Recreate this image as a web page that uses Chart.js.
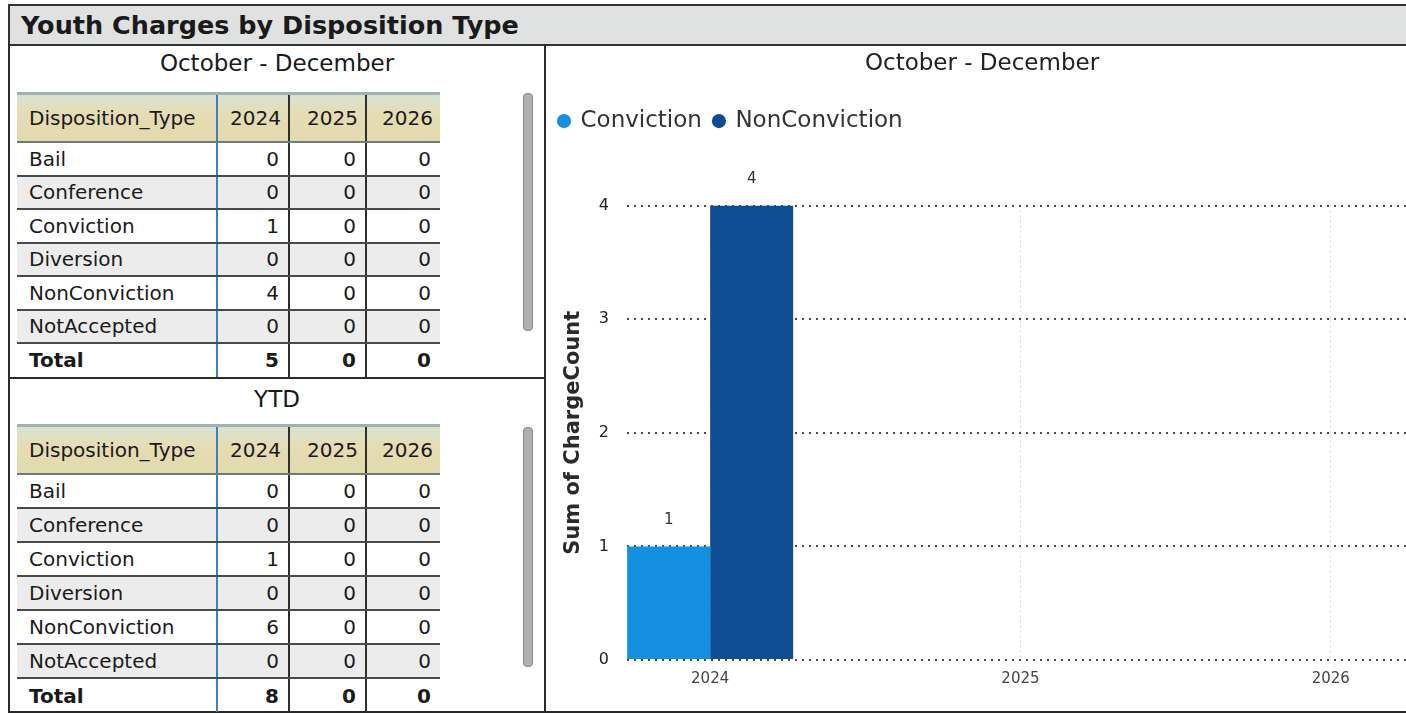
<!DOCTYPE html>
<html>
<head>
<meta charset="utf-8">
<script src="https://cdn.jsdelivr.net/npm/chart.js@4.4.1/dist/chart.umd.min.js"></script>
<style>
  html, body { margin: 0; padding: 0; background: #fff; overflow: hidden; }
  body { width: 1406px; height: 714px; position: relative; font-family: "DejaVu Sans", sans-serif; color: #1a1a1a; }
  #titleBar {
    position: absolute; left: 8px; top: 4px; width: 1420px; height: 38px;
    background: #dfe2e0; border: 2px solid #333; border-right: none;
    font-weight: bold; font-size: 25.5px; line-height: 38px; padding-left: 11px; box-sizing: content-box;
  }
  .panel { position: absolute; border-left: 2px solid #2b2b2b; box-sizing: border-box; }
  #leftTop { left: 8px; top: 44px; width: 538px; height: 335px; border-right: 2px solid #2b2b2b; border-bottom: 2px solid #2b2b2b; }
  #leftBottom { left: 8px; top: 379px; width: 538px; height: 334px; border-right: 2px solid #2b2b2b; border-bottom: 2px solid #2b2b2b; }
  #rightPanel { left: 546px; top: 44px; width: 880px; height: 669px; border-left: none; border-bottom: 2px solid #2b2b2b; }
  .secTitle { position: absolute; left: 0; width: 534px; text-align: center; font-size: 23px; }
  table.grid {
    position: absolute; left: 7px; border-collapse: collapse; table-layout: fixed;
    font-size: 20px;
  }
  table.grid th {
    height: 46px; font-weight: normal; padding: 0 7px; text-align: right;
    background: linear-gradient(#d9e3cf, #e6dcb2 45%, #e3d9ad);
    border-top: 3px solid #9fb0bb; border-bottom: 2px solid #6d7a80;
  }
  table.grid th:first-child { text-align: left; padding-left: 12px; }
  table.grid td { padding: 0 9px; text-align: right; border-bottom: 2px solid #4a4a4a; }
  table.grid td:first-child { text-align: left; padding-left: 12px; }
  table.grid td:nth-child(1), table.grid th:nth-child(1) { border-right: 2px solid #3d7fc4; }
  table.grid td:nth-child(2), table.grid th:nth-child(2),
  table.grid td:nth-child(3), table.grid th:nth-child(3) { border-right: 2px solid #2e2e2e; }
  table.grid tr.alt td { background: #ececec; }
  table.grid tr.total td { font-weight: bold; border-bottom: none; }
  .scroll { position: absolute; left: 513px; width: 8px; background: #b0b0b0; border: 1px solid #8a8a8a; border-radius: 4px; }
  #chartWrap { position: absolute; left: 547px; top: 47px; width: 870px; height: 664px; }
</style>
</head>
<body>
<div id="titleBar">Youth Charges by Disposition Type</div>

<div class="panel" id="leftTop">
  <div class="secTitle" style="top:6px;">October - December</div>
  <table class="grid" id="qtrTable" style="top:48px;"></table>
  <div class="scroll" style="top:49px; height:236px;"></div>
</div>

<div class="panel" id="leftBottom">
  <div class="secTitle" style="top:7px;">YTD</div>
  <table class="grid" id="ytdTable" style="top:45px;"></table>
  <div class="scroll" style="top:48px; height:238px;"></div>
</div>

<div class="panel" id="rightPanel"></div>
<div id="chartWrap"><canvas id="chargeChart" width="870" height="664"></canvas></div>

<script>
// Table data
const dispositionTypes = ['Bail', 'Conference', 'Conviction', 'Diversion', 'NonConviction', 'NotAccepted'];
const years = [2024, 2025, 2026];

const qtrCounts2024 = [0, 0, 1, 0, 4, 0];
const qtrCounts2025 = [0, 0, 0, 0, 0, 0];
const qtrCounts2026 = [0, 0, 0, 0, 0, 0];
const qtrTotals = [5, 0, 0];

const ytdCounts2024 = [0, 0, 1, 0, 6, 0];
const ytdCounts2025 = [0, 0, 0, 0, 0, 0];
const ytdCounts2026 = [0, 0, 0, 0, 0, 0];
const ytdTotals = [8, 0, 0];  // as printed (list scrolls, more rows hidden)

// Chart data (October - December)
const convictionCounts = [1, null, null];
const nonConvictionCounts = [4, null, null];

function buildTable(id, cols, totals, rowH) {
    const tbl = document.getElementById(id);
    let html = '<colgroup><col style="width:200px"><col style="width:72px"><col style="width:77px"><col style="width:74px"></colgroup>';
    html += '<tr><th>Disposition_Type</th>' + years.map(y => '<th>' + y + '</th>').join('') + '</tr>';
    dispositionTypes.forEach((name, i) => {
        html += '<tr class="' + (i % 2 ? 'alt' : '') + '" style="height:' + rowH + 'px"><td>' + name + '</td>' +
            cols.map(c => '<td>' + c[i] + '</td>').join('') + '</tr>';
    });
    html += '<tr class="total" style="height:' + rowH + 'px"><td>Total</td>' + totals.map(t => '<td>' + t + '</td>').join('') + '</tr>';
    tbl.innerHTML = html;
}

buildTable('qtrTable', [qtrCounts2024, qtrCounts2025, qtrCounts2026], qtrTotals, 33.5);
buildTable('ytdTable', [ytdCounts2024, ytdCounts2025, ytdCounts2026], ytdTotals, 34);

// value labels above bars
const barLabels = {
    id: 'barLabels',
    afterDatasetsDraw(chart) {
        const ctx = chart.ctx;
        ctx.save();
        ctx.font = '15px "DejaVu Sans"';
        ctx.fillStyle = '#333';
        ctx.textAlign = 'center';
        ctx.textBaseline = 'bottom';
        chart.data.datasets.forEach((ds, di) => {
            chart.getDatasetMeta(di).data.forEach((bar, i) => {
                if (ds.data[i] === null) return;
                ctx.fillText(ds.data[i], bar.x, bar.y - 19);
            });
        });
        ctx.restore();
    }
};

// push the plot area down below the legend
const legendGap = {
    id: 'legendGap',
    beforeInit(chart) {
        const fit = chart.legend.fit;
        chart.legend.fit = function () {
            fit.call(this);
            this.height += 63;
        };
    }
};

const config = {
    type: 'bar',
    data: {
        labels: years,
        datasets: [{
            label: 'Conviction',
            data: convictionCounts,
            backgroundColor: '#1490e0'
        }, {
            label: 'NonConviction',
            data: nonConvictionCounts,
            backgroundColor: '#0e4d93'
        }]
    },
    options: {
        responsive: false,
        animation: false,
        categoryPercentage: 0.535,
        barPercentage: 1.0,
        layout: { padding: { left: 0, right: 0, top: 0, bottom: 13 } },
        scales: {
            x: {
                type: 'linear',
                offset: false,
                min: 2023.732,
                max: 2026.278,
                afterBuildTicks(scale) {
                    scale.ticks = years.map(v => ({ value: v }));
                },
                grid: { color: '#d8d8d8', offset: false, drawTicks: false },
                border: { display: false, dash: [2, 3] },
                ticks: { color: '#444', font: { size: 15, family: 'DejaVu Sans' }, padding: 10, callback: v => String(v) }
            },
            y: {
                min: 0,
                max: 4,
                afterFit(scale) { scale.width = 80; },
                grid: { color: '#4a4a4a', lineWidth: 2, drawTicks: false },
                border: { display: false, dash: [2, 5] },
                ticks: { stepSize: 1, color: '#222', font: { size: 16, family: 'DejaVu Sans' }, padding: 18 },
                title: {
                    display: true,
                    text: 'Sum of ChargeCount',
                    color: '#2a2a2a',
                    font: { size: 21, weight: 'bold', family: 'DejaVu Sans' },
                    padding: { top: 14, bottom: 0 }
                }
            }
        },
        plugins: {
            title: {
                display: true,
                text: 'October - December',
                color: '#222',
                font: { size: 23, weight: 'normal', family: 'DejaVu Sans' },
                padding: { top: 3, bottom: 20 }
            },
            legend: {
                display: true,
                position: 'top',
                align: 'start',
                labels: {
                    usePointStyle: true,
                    pointStyle: 'circle',
                    boxWidth: 10,
                    boxHeight: 10,
                    padding: 12,
                    color: '#333',
                    font: { size: 23, family: 'DejaVu Sans' }
                }
            },
            tooltip: { enabled: false }
        }
    },
    plugins: [barLabels, legendGap]
};

const chargeChart = new Chart(document.getElementById('chargeChart'), config);
</script>
</body>
</html>
